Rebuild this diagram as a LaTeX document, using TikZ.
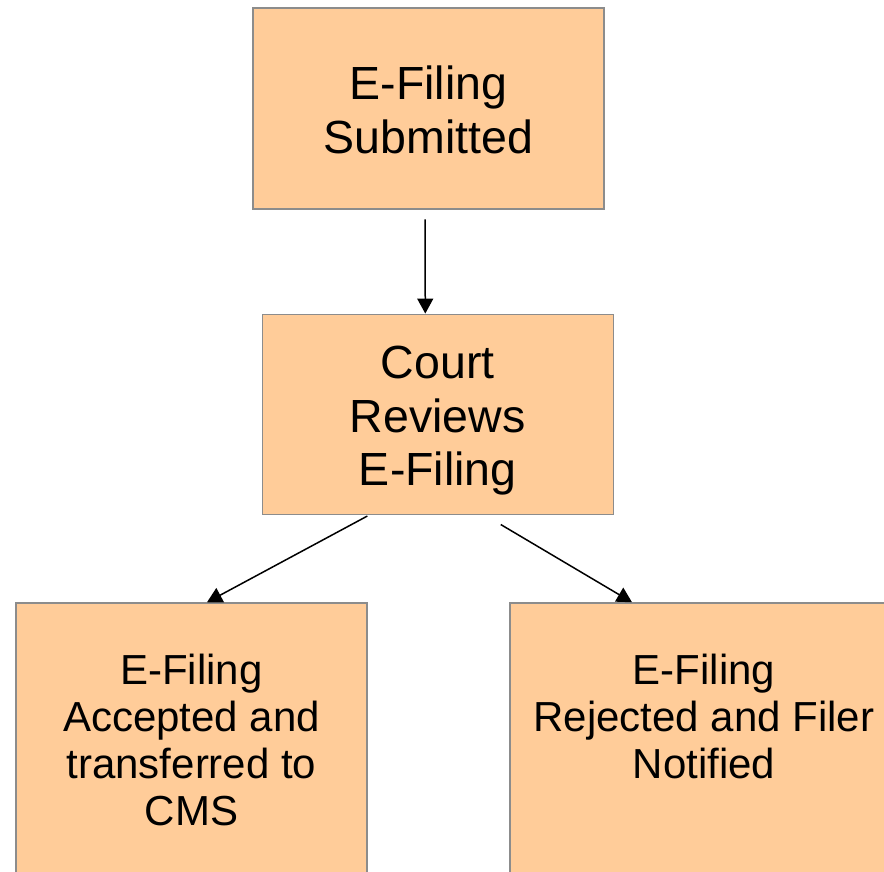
\documentclass[tikz,border=0pt]{standalone}
\usepackage{fontspec}
\setmainfont{Liberation Sans}
\usepackage{tikz}
\usetikzlibrary{calc,arrows.meta}
\definecolor{peach}{HTML}{FFCC99}
\definecolor{boxline}{HTML}{8C8C8C}

\begin{document}
\begin{tikzpicture}[x=1pt,y=-1pt]
        \tikzstyle{every node}=[inner sep=0pt, align=center]
        \tikzstyle{box}=[draw=boxline, line width=1.5pt, fill=peach, minimum width=351pt]
        \tikzstyle{big}=[font=\fontsize{46.5}{53.5}\selectfont]
        \tikzstyle{small}=[font=\fontsize{42}{47}\selectfont]
        \tikzstyle{arr}=[-{Triangle[length=15pt,width=16pt]}, line width=1.5pt]
        \useasboundingbox (0,0) rectangle (884,871);
        \node[box, minimum height=201pt] (sub) at (428.5,108.5) {};
        \node[box, minimum height=200pt] (court) at (437.8,414.3) {};
        % Bottom boxes, run past the page edge
        \node[box, minimum height=290pt] (acc) at (191.5,748) {};
        \node[box, minimum height=290pt, minimum width=388pt] (rej) at (704,748) {};
        % Texts
        \node[big, anchor=north] (subtext) at ($(sub.north)+(0,58.5)$) {E-Filing\\Submitted};
        \node[big, anchor=north] (courttext) at ($(court.north)+(0,32.5)$) {Court\\Reviews\\E-Filing};
        \node[small, anchor=north] (acctext) at ($(acc.north)+(0,52)$) {E-Filing\\Accepted and\\transferred to\\CMS};
        \node[small, anchor=north] (rejtext) at ($(rej.north)+(0,52)$) {E-Filing\\Rejected and Filer\\Notified};
        % Arrows
        \draw[arr] ($(sub.south)+(-3.5,9.5)$) -- ($(court.north)+(-12.5,0)$);
        \draw[arr] ($(court.south)+(-70.5,1)$) -- ($(acc.north)+(15.5,0)$);
        \draw[arr] ($(court.south)+(63,9.5)$) -- ($(rej.north)+(-72,0)$);
    \end{tikzpicture}
\end{document}
